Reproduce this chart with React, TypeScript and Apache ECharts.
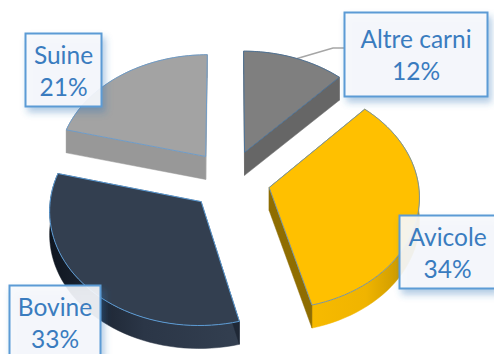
import React, { useEffect, useRef } from "react";
import * as echarts from "echarts";

const categories = ["Altre carni", "Avicole", "Bovine", "Suine"];
const shares = [12, 34, 33, 21];
const topColors = ["#7f7f7f", "#ffc000", "#333f50", "#a3a3a3"];
const edgeColors = ["#4f7396", "#7a95a0", "#5b9bd5", "#6f9cc8"];
const radialWallColors = ["#666666", "#8f6d00", "#1f2836", "#989898"];
const rimStops = [
  ["#6a6a6a", "#6a6a6a", "#6a6a6a"],
  ["#f7ba00", "#f0b400", "#b98d00"],
  ["#0f1620", "#2b3647", "#333f50"],
  ["#989898", "#989898", "#989898"],
];
const labelBoxes = [
  { x: 344.5, y: 12.5, w: 143, h: 84 },
  { x: 399.5, y: 215.5, w: 96, h: 73 },
  { x: 9.5, y: 285.5, w: 91, h: 74 },
  { x: 25.5, y: 33.5, w: 76, h: 73 },
];

// Projection of the exploded disc onto the page
const CX = 230;
const CY = 180;
const RX = 149;
const RY = 112;
const PERSPECTIVE = 0.07;
const EXPLODE = 0.27;
const DEPTH = 23;

const project = (x: number, y: number): [number, number] => {
  const s = 1 / (1 + PERSPECTIVE * y);
  return [CX + RX * x * s, CY - RY * y * s];
};

const drop = (pts: [number, number][]): [number, number][] =>
  pts.map(([x, y]) => [x, y + DEPTH] as [number, number]);

const sliceGeometry = (index: number) => {
  const total = shares.reduce((a, b) => a + b, 0);
  const before = shares.slice(0, index).reduce((a, b) => a + b, 0);
  const start = (before / total) * Math.PI * 2;
  const end = ((before + shares[index]) / total) * Math.PI * 2;
  const mid = (start + end) / 2;
  const ox = EXPLODE * Math.sin(mid);
  const oy = EXPLODE * Math.cos(mid);
  const rim: [number, number][] = [];
  const steps = 48;
  for (let i = 0; i <= steps; i++) {
    const a = start + ((end - start) * i) / steps;
    rim.push(project(ox + Math.sin(a), oy + Math.cos(a)));
  }
  return { apex: project(ox, oy), rim };
};

function renderSlice(params: any) {
  const i = params.dataIndex;
  const { apex, rim } = sliceGeometry(i);
  const first = rim[0];
  const last = rim[rim.length - 1];
  const xs = rim.map((p) => p[0]);
  const wall = (pts: [number, number][], fill: any) => ({
    type: "polygon",
    shape: { points: pts },
    style: { fill, stroke: fill, lineWidth: 0.5 },
    silent: true,
  });
  const rimFill = new echarts.graphic.LinearGradient(
    Math.min(...xs),
    0,
    Math.max(...xs),
    0,
    [
      { offset: 0, color: rimStops[i][0] },
      { offset: 0.5, color: rimStops[i][1] },
      { offset: 1, color: rimStops[i][2] },
    ],
    true
  );
  return {
    type: "group",
    children: [
      wall([...rim, ...drop(rim).reverse()], rimFill),
      wall([apex, first, ...drop([first, apex])], radialWallColors[i]),
      wall([apex, last, ...drop([last, apex])], radialWallColors[i]),
      {
        type: "polygon",
        shape: { points: [apex, ...rim] },
        style: { fill: topColors[i], stroke: edgeColors[i], lineWidth: 1 },
        silent: true,
      },
    ],
  };
}

function renderLabel(params: any, api: any) {
  const i = params.dataIndex;
  const box = labelBoxes[i];
  return {
    type: "group",
    children: [
      {
        type: "rect",
        shape: { x: box.x, y: box.y, width: box.w, height: box.h },
        style: {
          fill: "rgba(247,249,253,0.9)",
          stroke: "#5b9bd5",
          lineWidth: 2,
          shadowBlur: 7,
          shadowOffsetX: 3,
          shadowOffsetY: 5,
          shadowColor: "rgba(46,117,182,0.4)",
        },
        silent: true,
      },
      {
        type: "text",
        x: box.x + box.w / 2,
        y: box.y + box.h / 2,
        style: {
          text: `${categories[i]}\n${api.value(0)}%`,
          fill: "#3a7cbf",
          font: '24.5px Lato, "Open Sans", sans-serif',
          lineHeight: 32,
          align: "center",
          verticalAlign: "middle",
        },
        silent: true,
      },
    ],
  };
}

export default function App() {
  const ref = useRef<HTMLDivElement>(null);
  useEffect(() => {
    const chart = echarts.init(ref.current!, undefined, { renderer: "svg" });
    chart.setOption({
      animation: false,
      backgroundColor: "#ffffff",
      graphic: [
        {
          type: "polyline",
          z: 1,
          shape: { points: [[292, 60], [333, 48], [344, 48]] },
          style: { stroke: "#a6a6a6", lineWidth: 1.6, fill: "none" },
        },
      ],
      series: [
        {
          type: "custom",
          coordinateSystem: "none",
          z: 2,
          data: shares.map((v) => [v]),
          renderItem: renderSlice,
          silent: true,
        },
        {
          type: "custom",
          coordinateSystem: "none",
          z: 3,
          data: shares.map((v) => [v]),
          renderItem: renderLabel,
          silent: true,
        },
      ],
    });
    return () => chart.dispose();
  }, []);
  return (
    <div
      ref={ref}
      style={{ position: "absolute", left: 0, top: 0, width: 494, height: 354 }}
    />
  );
}
